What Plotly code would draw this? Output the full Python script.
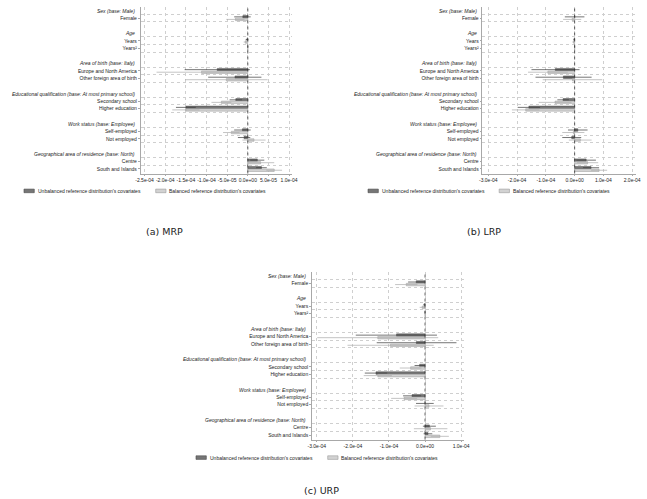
import plotly.graph_objects as go

W, H = 647, 499
SCALE = 1e-05  # values below are in units of 1e-05

groups = [
    ("Sex (base: Male)", ["Female"]),
    ("Age", ["Years", "Years²"]),
    ("Area of birth (base: Italy)", ["Europe and North America", "Other foreign area of birth"]),
    ("Educational qualification (base: At most primary school)", ["Secondary school", "Higher education"]),
    ("Work status (base: Employee)", ["Self-employed", "Not employed"]),
    ("Geographical area of residence (base: North)", ["Centre", "South and Islands"]),
]

series_names = ["Unbalanced reference distribution's covariates",
                "Balanced reference distribution's covariates"]

# MRP
mrp_unbal_est = [-1.2, -0.2, 0.0, -7.4, -3.1, -2.9, -15.0, -1.3, -0.9, 2.3, 3.3]
mrp_unbal_lo = [-3.3, -0.5, -0.05, -15.3, -9.6, -4.4, -17.4, -3.3, -2.4, 0.6, 2.0]
mrp_unbal_hi = [0.7, 0.1, 0.05, 0.5, 3.3, -1.4, -12.6, 0.7, 0.6, 4.0, 4.6]
mrp_bal_est = [-3.0, -0.6, 0.0, -11.2, -5.2, -6.4, -15.0, -4.0, 1.5, 3.1, 6.4]
mrp_bal_lo = [-5.2, -1.0, -0.1, -22.1, -15.2, -8.8, -18.3, -6.0, -1.3, -0.2, 4.5]
mrp_bal_hi = [-0.8, -0.2, 0.1, -0.3, 4.8, -4.0, -11.7, -2.0, 4.3, 6.4, 8.3]

# LRP
lrp_unbal_est = [0.0, -0.2, 0.0, -6.7, -3.9, -4.0, -15.9, 1.1, -1.0, 4.0, 5.7]
lrp_unbal_lo = [-3.4, -0.4, -0.05, -15.0, -13.6, -6.0, -19.8, -2.3, -4.3, 0.6, 2.9]
lrp_unbal_hi = [3.4, 0.0, 0.05, 1.7, 5.9, -2.0, -12.0, 4.5, 2.3, 7.4, 8.5]
lrp_bal_est = [-0.85, -0.4, 0.0, -9.3, -0.75, -6.8, -17.0, -0.45, 2.0, 4.5, 8.5]
lrp_bal_lo = [-4.0, -0.8, -0.1, -16.2, -11.1, -12.5, -21.8, -4.3, -2.0, 0.8, 5.7]
lrp_bal_hi = [2.3, 0.0, 0.1, -2.4, 9.6, -1.1, -12.2, 3.4, 5.9, 8.2, 11.3]

# URP
urp_unbal_est = [-2.45, -0.2, 0.0, -7.9, -2.4, -1.5, -13.6, -3.6, 0.0, 1.2, 0.8]
urp_unbal_lo = [-4.7, -0.5, -0.05, -19.2, -13.4, -2.9, -16.7, -6.1, -2.5, -0.6, -0.4]
urp_unbal_hi = [-0.2, 0.1, 0.05, 3.3, 8.7, -0.1, -10.5, -1.1, 2.4, 3.0, 2.0]
urp_bal_est = [-5.2, -0.8, 0.0, -13.1, -9.6, -4.0, -13.1, -5.8, 1.1, 1.5, 4.1]
urp_bal_lo = [-8.3, -1.5, -0.1, -29.9, -21.5, -7.0, -17.0, -9.4, -2.9, -3.1, 1.6]
urp_bal_hi = [-2.1, -0.1, 0.1, 3.65, 2.4, -1.0, -9.2, -2.2, 5.1, 6.2, 6.6]

mrp_ticks = [-2.5e-04, -2.0e-04, -1.5e-04, -1.0e-04, -5.0e-05, 0.0, 5.0e-05, 1.0e-04]
lrp_ticks = [-3.0e-04, -2.0e-04, -1.0e-04, 0.0, 1.0e-04, 2.0e-04]
urp_ticks = [-3.0e-04, -2.0e-04, -1.0e-04, 0.0, 1.0e-04]

captions = ["(a) MRP", "(b) LRP", "(c) URP"]

# ---- row layout ----
coef_labels, coef_pos, header_labels, header_pos, between = [], [], [], [], []
p = 0
for head, items in groups:
    header_labels.append(head)
    header_pos.append(p)
    for it in items:
        p += 1
        coef_labels.append(it)
        coef_pos.append(p)
        between += [p - 0.5, p + 0.5]
    p += 2
between = sorted(set(between))
last = coef_pos[-1]

# pixel geometry of each panel; key positions: (swatch left px for each key), key row y px
panels = [
    dict(unb=(mrp_unbal_est, mrp_unbal_lo, mrp_unbal_hi), bal=(mrp_bal_est, mrp_bal_lo, mrp_bal_hi),
         ticks=mrp_ticks, xrange=[-2.595e-04, 1.064e-04],
         xpx=(138.0, 291.7), ypx=(7.2, 173.5), key=((19.3, 153.3), 190.9), cap=(162, 231)),
    dict(unb=(lrp_unbal_est, lrp_unbal_lo, lrp_unbal_hi), bal=(lrp_bal_est, lrp_bal_lo, lrp_bal_hi),
         ticks=lrp_ticks, xrange=[-3.204e-04, 2.136e-04],
         xpx=(485.7, 642.0), ypx=(7.2, 173.5), key=((369.3, 502.7), 190.9), cap=(487, 231)),
    dict(unb=(urp_unbal_est, urp_unbal_lo, urp_unbal_hi), bal=(urp_bal_est, urp_bal_lo, urp_bal_hi),
         ticks=urp_ticks, xrange=[-3.134e-04, 1.073e-04],
         xpx=(312.3, 466.7), ypx=(272.3, 439.6), key=((194.3, 328.3), 457.6), cap=(322, 490)),
]

FONT = "Liberation Sans"
dark_fill, dark_line, dark_ci = "#767676", "#4a4a4a", "#3a3a3a"
light_fill, light_line, light_ci = "#d2d2d2", "#9a9a9a", "#ababab"
axis_col = "#a8a8a8"
grid_col = "#cfcfcf"
SW_W, SW_H = 10.5, 3.6  # key swatch size (px)

fig = go.Figure()
layout = dict(width=W, height=H, margin=dict(l=0, r=0, t=0, b=0),
              paper_bgcolor="white", plot_bgcolor="white", showlegend=False,
              barmode="group", bargap=0.33, bargroupgap=0.0,
              font=dict(family=FONT, size=5, color="#222222"))
annotations, shapes = [], []

for i, pn in enumerate(panels):
    n = "" if i == 0 else str(i + 1)
    xa, ya = "x" + n, "y" + n
    (kx1, kx2), ky = pn["key"]
    for k, ((est, lo, hi), name, fill, lcol, ccol) in enumerate([
        (pn["unb"], series_names[0], dark_fill, dark_line, dark_ci),
        (pn["bal"], series_names[1], light_fill, light_line, light_ci),
    ]):
        xs = [v * SCALE for v in est]
        plus = [(h - e) * SCALE for e, h in zip(est, hi)]
        minus = [(e - l) * SCALE for e, l in zip(est, lo)]
        fig.add_trace(go.Bar(
            x=xs, y=coef_pos, orientation="h", name=name,
            xaxis=xa, yaxis=ya,
            marker=dict(color=fill, line=dict(color=lcol, width=0.5)),
            error_x=dict(type="data", symmetric=False, array=plus, arrayminus=minus,
                         color=ccol, thickness=0.7, width=0),
        ))
        # key entry: swatch + label
        kx = kx1 if k == 0 else kx2
        shapes.append(dict(type="rect", xref="paper", yref="paper",
                           x0=kx / W, x1=(kx + SW_W) / W,
                           y0=1 - (ky + SW_H / 2) / H, y1=1 - (ky - SW_H / 2) / H,
                           fillcolor=fill, line=dict(color=lcol, width=0.6)))
        annotations.append(dict(text=name, xref="paper", yref="paper",
                                x=(kx + SW_W + 2.5) / W, y=1 - ky / H,
                                xanchor="left", yanchor="middle", showarrow=False, borderpad=0,
                                font=dict(size=5, color="#222222", family=FONT)))
    x0, x1 = pn["xpx"]
    y0, y1 = pn["ypx"]
    layout["xaxis" + n] = dict(
        domain=[x0 / W, x1 / W], anchor=ya, range=pn["xrange"],
        tickvals=pn["ticks"], ticktext=[f"{v:.1e}" for v in pn["ticks"]], tickangle=0,
        ticks="outside", ticklen=2, tickwidth=0.6, tickcolor=axis_col,
        showline=True, linecolor=axis_col, linewidth=0.6,
        showgrid=True, gridcolor=grid_col, griddash="dot", gridwidth=0.6,
        zeroline=False, tickfont=dict(size=5, color="#222222"), fixedrange=True,
    )
    layout["yaxis" + n] = dict(
        domain=[1 - y1 / H, 1 - y0 / H], anchor=xa, range=[last + 0.6, -0.45],
        tickvals=coef_pos, ticktext=coef_labels,
        ticks="outside", ticklen=2, tickwidth=0.6, tickcolor=axis_col,
        showline=True, linecolor=axis_col, linewidth=0.6,
        showgrid=False, zeroline=False,
        minor=dict(tickmode="array", tickvals=between, showgrid=True,
                   gridcolor=grid_col, griddash="dot", gridwidth=0.6, ticks=""),
        tickfont=dict(size=5, color="#222222"), fixedrange=True,
    )
    for h, hp in zip(header_labels, header_pos):
        annotations.append(dict(
            text=f"<i>{h}</i>", xref=xa + " domain", yref=ya, x=-3.6 / (x1 - x0), y=hp,
            xanchor="right", yanchor="middle", showarrow=False,
            font=dict(size=5, color="#222222", family=FONT)))
    shapes.append(dict(type="line", xref=xa, yref=ya + " domain", x0=0, x1=0, y0=0, y1=1,
                       line=dict(color="#333333", width=0.8, dash="dot")))
    cx, cy = pn["cap"]
    annotations.append(dict(text=captions[i], xref="paper", yref="paper", x=cx / W, y=1 - cy / H,
                            xanchor="center", yanchor="middle", showarrow=False,
                            font=dict(size=9.5, color="#222222", family="DejaVu Sans")))

layout["annotations"] = annotations
layout["shapes"] = shapes
fig.update_layout(**layout)
fig.write_html("out.html", config={"displayModeBar": False},
               post_script="document.body.style.margin='0px';document.body.style.overflow='hidden';")
